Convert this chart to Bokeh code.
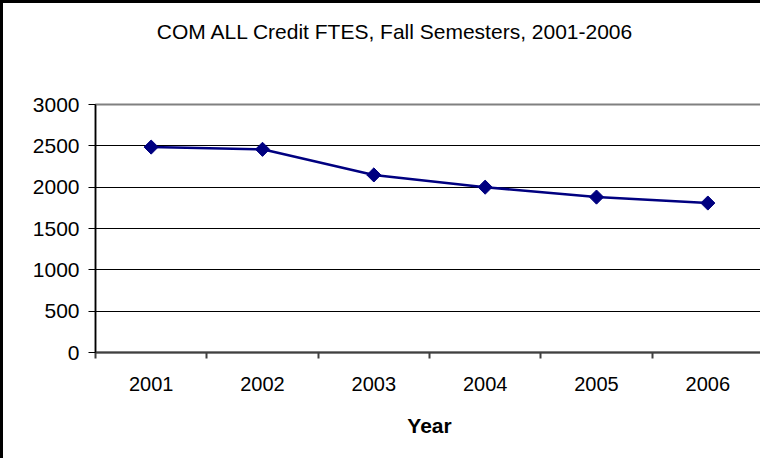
import math
from bokeh.plotting import figure
from bokeh.models import FixedTicker, Range1d, LinearAxis
from bokeh.embed import file_html
from bokeh.resources import INLINE

years = ["2001", "2002", "2003", "2004", "2005", "2006"]
ftes = [2485, 2458, 2148, 2000, 1880, 1808]
y_ticks = [0, 500, 1000, 1500, 2000, 2500, 3000]
title_text = "COM ALL Credit FTES, Fall Semesters, 2001-2006"
x_title = "Year"

xs = list(range(1, len(years) + 1))
FONT = "Liberation Sans"
W, H = 760, 458
BL, BR, BT, BB = 92, 0, 101, 109
FW = W - BL - BR

p = figure(width=W, height=H, output_backend="svg", toolbar_location=None,
           x_range=Range1d(0.5, len(years) + 0.5), y_range=Range1d(0, 3000),
           min_border_left=BL, min_border_right=BR, min_border_top=BT,
           min_border_bottom=BB)
p.styles = {"border-top": "3px solid black", "border-left": "3px solid black",
            "box-sizing": "border-box"}

p.background_fill_color = "white"
p.border_fill_color = "white"
p.outline_line_color = "#808080"
p.outline_line_width = 2

p.line(xs, ftes, line_color="#000080", line_width=2.5)
p.scatter(xs, ftes, marker="square", angle=math.pi / 4, size=10,
          fill_color="#000080", line_color="#000080")

# y axis
p.yaxis.ticker = FixedTicker(ticks=y_ticks)
p.yaxis.axis_line_color = "black"
p.yaxis.axis_line_width = 1.5
p.yaxis.major_tick_line_color = "black"
p.yaxis.major_tick_in = 0
p.yaxis.major_tick_out = 7
p.yaxis.minor_tick_line_color = None
p.yaxis.major_label_standoff = 9
p.yaxis.major_label_text_font = FONT
p.yaxis.major_label_text_font_size = "21px"
p.yaxis.major_label_text_color = "black"

# x axis
p.xaxis.ticker = FixedTicker(ticks=xs, minor_ticks=[x - 0.5 for x in xs] + [len(xs) + 0.5])
p.xaxis.major_label_overrides = {x: y for x, y in zip(xs, years)}
p.xaxis.axis_line_color = "#404040"
p.xaxis.axis_line_width = 2
p.xaxis.major_tick_line_color = None
p.xaxis.major_tick_in = 0
p.xaxis.major_tick_out = 0
p.xaxis.minor_tick_line_color = "#404040"
p.xaxis.minor_tick_line_width = 2
p.xaxis.minor_tick_in = 0
p.xaxis.minor_tick_out = 6
p.xaxis.major_label_standoff = 18
p.xaxis.major_label_text_font = FONT
p.xaxis.major_label_text_font_size = "20px"
p.xaxis.major_label_text_color = "black"
p.xaxis.axis_label = x_title
p.xaxis.axis_label_text_font = FONT
p.xaxis.axis_label_text_font_size = "21px"
p.xaxis.axis_label_text_font_style = "bold"
p.xaxis.axis_label_text_color = "black"
p.xaxis.axis_label_standoff = 20

p.xgrid.grid_line_color = None
p.ygrid.ticker = FixedTicker(ticks=y_ticks)
p.ygrid.grid_line_color = "black"
p.ygrid.grid_line_width = 1

# title, drawn as the single label of an invisible axis above the frame
p.extra_x_ranges = {"title_px": Range1d(0, FW)}
title_pos = 300
tax = LinearAxis(x_range_name="title_px", ticker=FixedTicker(ticks=[title_pos]),
                 major_label_overrides={title_pos: title_text},
                 axis_line_color=None, major_tick_line_color=None,
                 major_tick_in=0, major_tick_out=0, minor_tick_line_color=None,
                 major_label_standoff=62, major_label_text_font=FONT,
                 major_label_text_font_size="21px", major_label_text_color="black")
p.add_layout(tax, "above")

open("out.html", "w").write(file_html(p, INLINE))
